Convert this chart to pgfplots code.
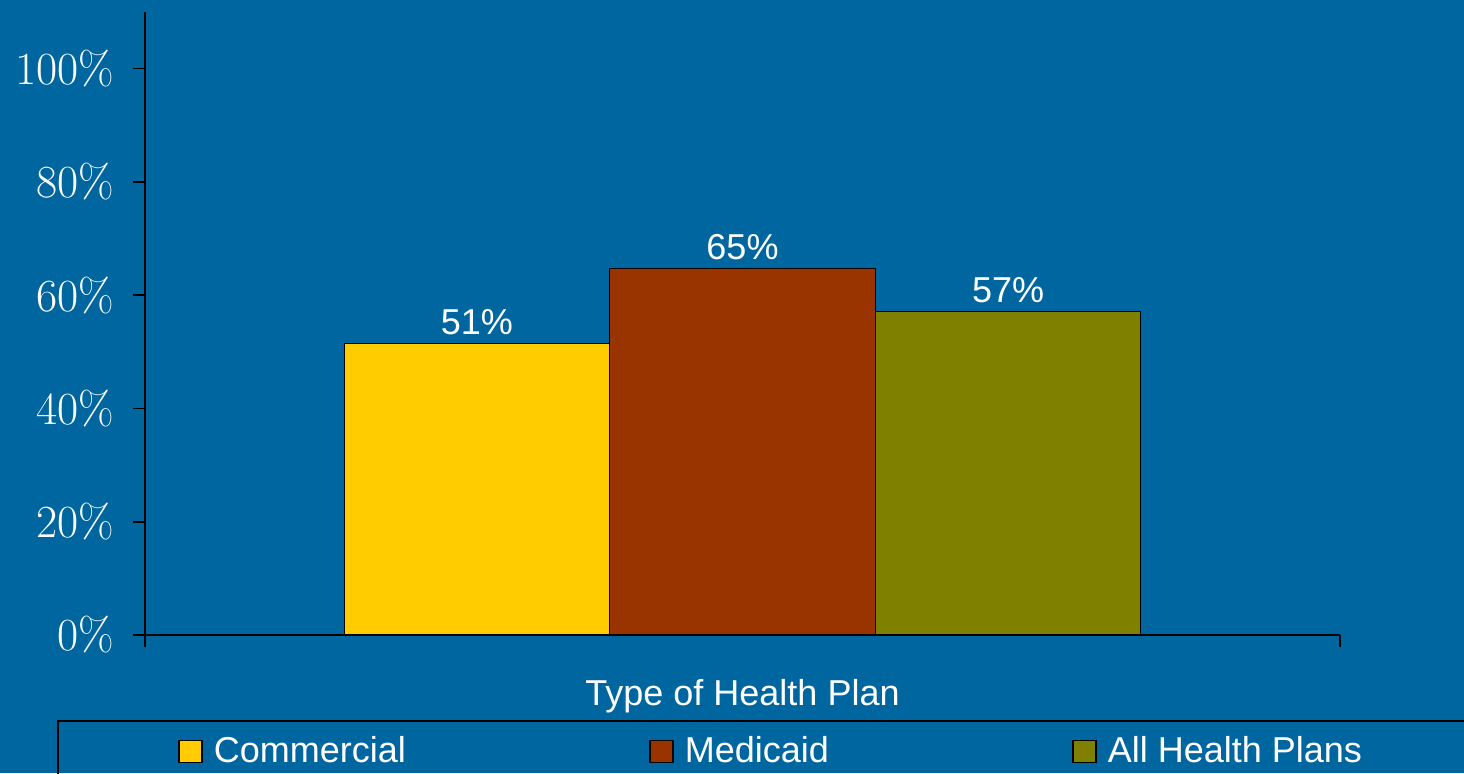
\documentclass[border=0pt]{standalone}
\usepackage{pgfplots}
\pgfplotsset{compat=1.18}
\usepackage{fontspec}
\newfontfamily\arial{Liberation Sans}
\definecolor{bgblue}{RGB}{0,102,160}
\definecolor{cyel}{RGB}{255,204,0}
\definecolor{cbrown}{RGB}{153,51,0}
\definecolor{colive}{RGB}{128,128,0}
\begin{document}
\begin{tikzpicture}
\fill[bgblue] (0,0) rectangle (732pt,386.5pt);
\begin{scope}
\clip (0,0) rectangle (732pt,386.5pt);
\begin{axis}[
  at={(72.5pt,69pt)}, anchor=south west,
  scale only axis, width=597.5pt, height=311.5pt,
  xmin=-0.25, xmax=4.25, ymin=0, ymax=110,
  axis x line*=bottom, axis y line*=left,
  axis line style={black, line width=0.8pt},
  ytick={0,20,40,60,80,100},
  yticklabels={0\%,20\%,40\%,60\%,80\%,100\%},
  xtick={-0.25,4.25}, xticklabels={},
  tick align=outside, major tick length=6pt,
  tick style={black, line width=0.8pt},
  yticklabel style={font=\fontsize{23}{27}\selectfont, text=white, xshift=-6pt},
  xlabel={Type of Health Plan},
  xlabel style={font=\arial\fontsize{18}{22}\selectfont, text=white,
    at={(axis description cs:0.5,0)}, anchor=center, yshift=-30.5pt},
  ybar, bar width=1,
  point meta=explicit symbolic,
  nodes near coords,
  nodes near coords style={font=\arial\fontsize{18}{22}\selectfont, text=white, anchor=south, inner sep=4pt},
  legend columns=3,
  legend image code/.code={\path[draw=none,fill=none] (0pt,0pt) (18pt,0pt);\draw[#1,draw=black,line width=0.7pt] (2.5pt,-5.5pt) rectangle (14pt,5.5pt);},
  legend style={at={(-0.07364,-0.13644)}, anchor=north west, draw=black, line width=0.8pt,
    fill=none, text=white, font=\arial\fontsize{18}{22}\selectfont,
    inner xsep=58pt, inner ysep=6pt,
    /tikz/every even column/.append style={column sep=117.5pt}},
]
\addplot[fill=cyel, draw=black, line width=0.6pt, bar shift=0pt] coordinates {(1,51.4) [51\%]};
\addplot[fill=cbrown, draw=black, line width=0.6pt, bar shift=0pt] coordinates {(2,64.7) [65\%]};
\addplot[fill=colive, draw=black, line width=0.6pt, bar shift=0pt] coordinates {(3,57.1) [57\%]};
\legend{Commercial, Medicaid, All Health Plans\hspace{20pt}}
\end{axis}
\end{scope}
\pgfresetboundingbox
\path[use as bounding box] (0,0) rectangle (732pt,386.5pt);
\end{tikzpicture}
\end{document}
